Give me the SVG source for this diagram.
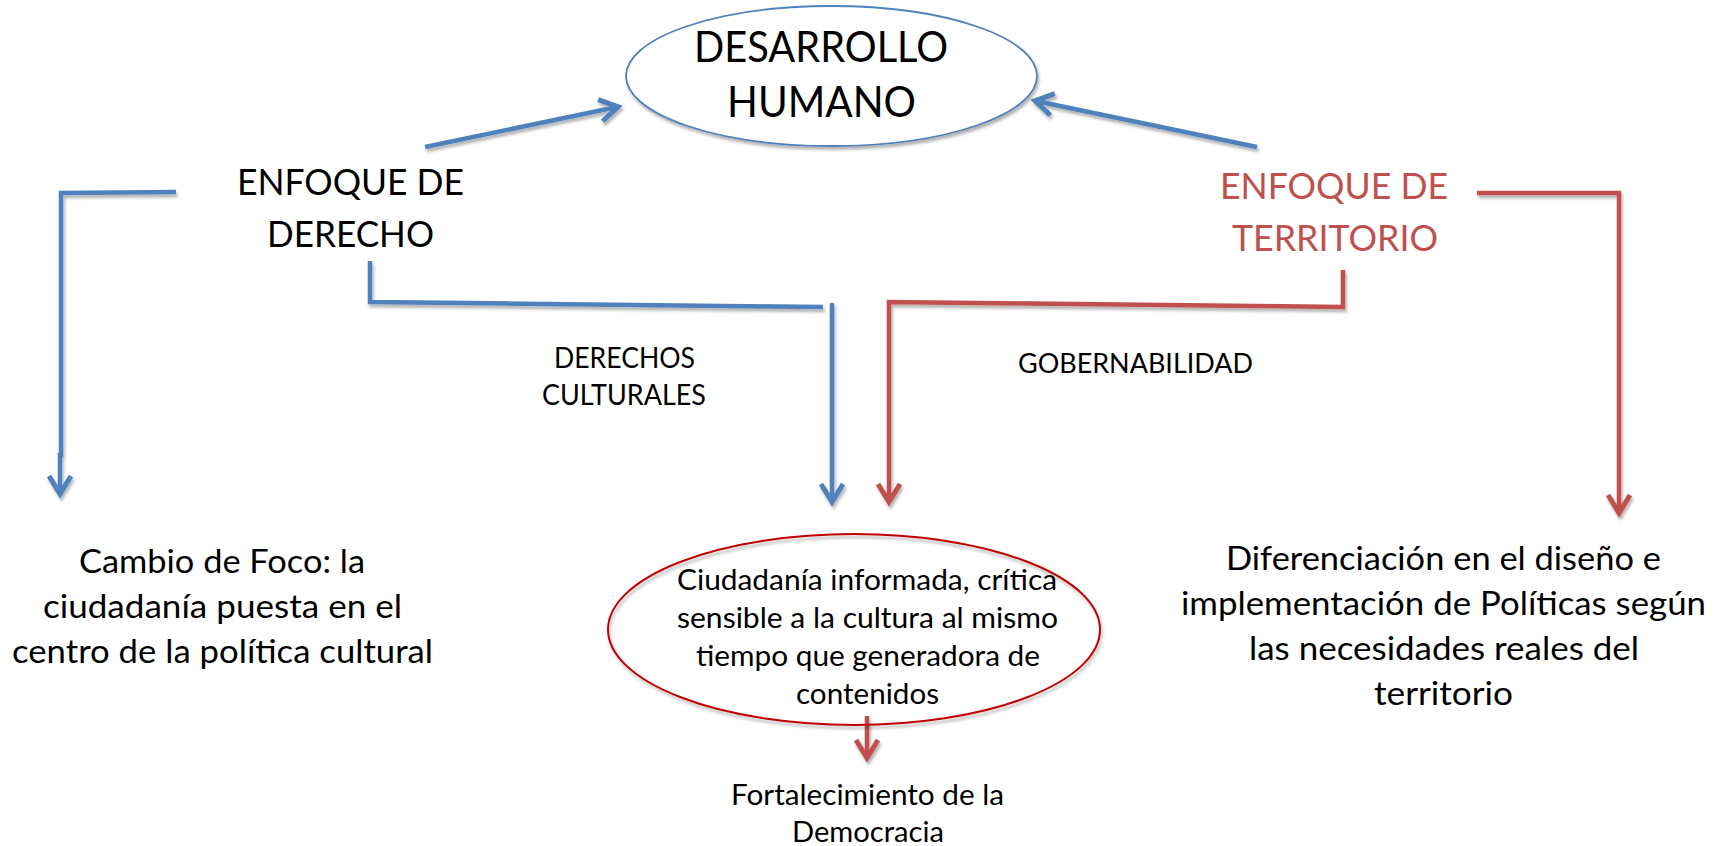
<svg xmlns="http://www.w3.org/2000/svg" width="1725" height="846" viewBox="0 0 1725 846">
  <style>
    text { font-family: Lato, "Liberation Sans", "DejaVu Sans", sans-serif; fill: #000; text-anchor: middle; }
    .red { fill: #C0504D; }
    .t42 { font-size: 42px; }
    .t36 { font-size: 36px; }
    .t32 { font-size: 32px; }
    .t28 { font-size: 28px; }
    .t26 { font-size: 26px; }
    .blue { fill: none; stroke: #4F81BD; stroke-width: 4.5; stroke-linejoin: miter; }
    .redl { fill: none; stroke: #C0504D; stroke-width: 4.5; stroke-linejoin: miter; }
  </style>
  <defs>
    <filter id="sh" x="-20%" y="-20%" width="140%" height="140%">
      <feDropShadow dx="1.5" dy="3" stdDeviation="1.5" flood-color="#000" flood-opacity="0.3"/>
    </filter>
    <marker id="ab" viewBox="-26 -14 30 28" refX="-5" refY="0" markerWidth="30" markerHeight="28" markerUnits="userSpaceOnUse" orient="auto">
      <path d="M-22,-11 L-4,0 L-22,11" fill="none" stroke="#4F81BD" stroke-width="5" stroke-linejoin="miter"/>
    </marker>
    <marker id="ar" viewBox="-26 -14 30 28" refX="-5" refY="0" markerWidth="30" markerHeight="28" markerUnits="userSpaceOnUse" orient="auto">
      <path d="M-22,-11 L-4,0 L-22,11" fill="none" stroke="#C0504D" stroke-width="5" stroke-linejoin="miter"/>
    </marker>
  </defs>
  <rect width="1725" height="846" fill="#fff"/>

  <g id="connectors" filter="url(#sh)">
    <path class="blue" d="M425,147 L617,107" marker-end="url(#ab)"/>
    <path class="blue" d="M1257,147 L1036,101" marker-end="url(#ab)"/>
    <path class="blue" d="M176,192 L61,193 L61,455 L60,455 L60,493" marker-end="url(#ab)"/>
    <path class="blue" d="M370,261 L370,302 L823,307"/>
    <path class="blue" d="M832,303 L832,501" marker-end="url(#ab)"/>
    <path class="redl" d="M1343,270 L1343,307 L889,302 L889,501" marker-end="url(#ar)"/>
    <path class="redl" d="M1477,193 L1619,193 L1619,512" marker-end="url(#ar)"/>
    <path class="redl" d="M867,716 L867,757" marker-end="url(#ar)"/>
  </g>

  <g id="desarrollo-humano">
    <ellipse cx="831.5" cy="76" rx="205.5" ry="70" fill="#fff" stroke="#4F81BD" stroke-width="1.8" filter="url(#sh)"/>
    <text class="t42" x="821" y="62" textLength="254" lengthAdjust="spacingAndGlyphs">DESARROLLO</text>
    <text class="t42" x="821.5" y="117" textLength="189" lengthAdjust="spacingAndGlyphs">HUMANO</text>
  </g>

  <g id="enfoque-derecho">
    <text class="t36" x="350.5" y="195" textLength="227" lengthAdjust="spacingAndGlyphs">ENFOQUE DE</text>
    <text class="t36" x="350.5" y="247" textLength="167" lengthAdjust="spacingAndGlyphs">DERECHO</text>
  </g>

  <g id="enfoque-territorio">
    <text class="t36 red" x="1334" y="199" textLength="228" lengthAdjust="spacingAndGlyphs">ENFOQUE DE</text>
    <text class="t36 red" x="1335" y="251" textLength="206" lengthAdjust="spacingAndGlyphs">TERRITORIO</text>
  </g>

  <g id="derechos-culturales">
    <text class="t28" x="624.5" y="368" textLength="141" lengthAdjust="spacingAndGlyphs">DERECHOS</text>
    <text class="t28" x="624" y="405" textLength="164" lengthAdjust="spacingAndGlyphs">CULTURALES</text>
  </g>

  <g id="gobernabilidad">
    <text class="t26" x="1135.5" y="373" textLength="235" lengthAdjust="spacingAndGlyphs">GOBERNABILIDAD</text>
  </g>

  <g id="cambio-foco">
    <text class="t32" x="222" y="573" textLength="286" lengthAdjust="spacingAndGlyphs">Cambio de Foco: la</text>
    <text class="t32" x="222.5" y="618" textLength="359" lengthAdjust="spacingAndGlyphs">ciudadanía puesta en el</text>
    <text class="t32" x="222.5" y="663" textLength="421" lengthAdjust="spacingAndGlyphs">centro de la política cultural</text>
  </g>

  <g id="ciudadania">
    <ellipse cx="854" cy="629.5" rx="246" ry="95.5" fill="none" stroke="#C00000" stroke-width="2" filter="url(#sh)"/>
    <text class="t28" x="867" y="590" textLength="380" lengthAdjust="spacingAndGlyphs">Ciudadanía informada, crítica</text>
    <text class="t28" x="867.5" y="628" textLength="381" lengthAdjust="spacingAndGlyphs">sensible a la cultura al mismo</text>
    <text class="t28" x="868" y="666" textLength="344" lengthAdjust="spacingAndGlyphs">tiempo que generadora de</text>
    <text class="t28" x="867.5" y="704" textLength="143" lengthAdjust="spacingAndGlyphs">contenidos</text>
  </g>

  <g id="fortalecimiento">
    <text class="t28" x="867.5" y="805" textLength="273" lengthAdjust="spacingAndGlyphs">Fortalecimiento de la</text>
    <text class="t28" x="868" y="842" textLength="152" lengthAdjust="spacingAndGlyphs">Democracia</text>
  </g>

  <g id="diferenciacion">
    <text class="t32" x="1443.5" y="570" textLength="435" lengthAdjust="spacingAndGlyphs">Diferenciación en el diseño e</text>
    <text class="t32" x="1443.5" y="615" textLength="525" lengthAdjust="spacingAndGlyphs">implementación de Políticas según</text>
    <text class="t32" x="1444" y="660" textLength="390" lengthAdjust="spacingAndGlyphs">las necesidades reales del</text>
    <text class="t32" x="1443.5" y="705" textLength="139" lengthAdjust="spacingAndGlyphs">territorio</text>
  </g>
</svg>
